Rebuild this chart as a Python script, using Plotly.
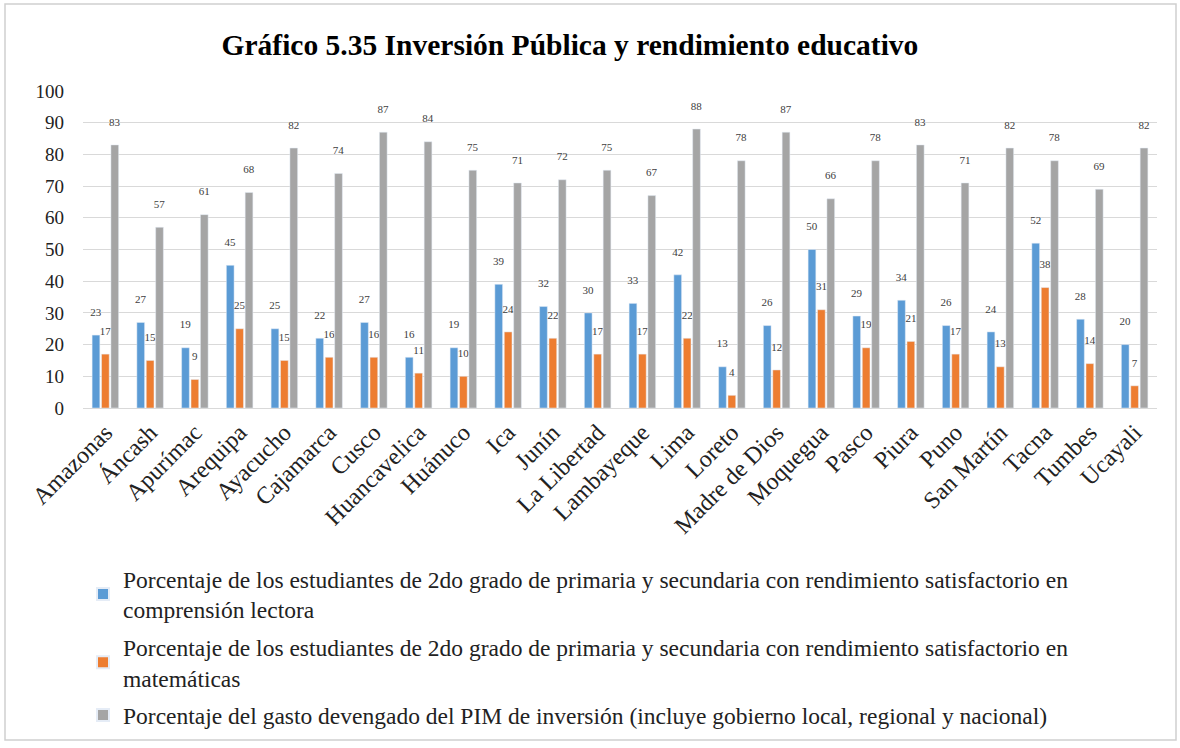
import plotly.graph_objects as go

regiones = ["Amazonas", "Áncash", "Apurímac", "Arequipa", "Ayacucho", "Cajamarca", "Cusco",
            "Huancavelica", "Huánuco", "Ica", "Junín", "La Libertad", "Lambayeque", "Lima",
            "Loreto", "Madre de Dios", "Moquegua", "Pasco", "Piura", "Puno", "San Martín",
            "Tacna", "Tumbes", "Ucayali"]
lectura = [23, 27, 19, 45, 25, 22, 27, 16, 19, 39, 32, 30, 33, 42, 13, 26, 50, 29, 34, 26, 24, 52, 28, 20]
matematica = [17, 15, 9, 25, 15, 16, 16, 11, 10, 24, 22, 17, 17, 22, 4, 12, 31, 19, 21, 17, 13, 38, 14, 7]
gasto_pim = [83, 57, 61, 68, 82, 74, 87, 84, 75, 71, 72, 75, 67, 88, 78, 87, 66, 78, 83, 71, 82, 78, 69, 82]

series = [
    ("Porcentaje de los estudiantes de 2do grado de primaria y secundaria con rendimiento satisfactorio en<br>comprensión lectora",
     lectura, "#5B9BD5"),
    ("Porcentaje de los estudiantes de 2do grado de primaria y secundaria con rendimiento satisfactorio en<br>matemáticas",
     matematica, "#ED7D31"),
    ("Porcentaje del gasto devengado del PIM de inversión (incluye gobierno local, regional y nacional)",
     gasto_pim, "#A5A5A5"),
]

SERIF = "Liberation Serif, Times New Roman, serif"
W, H = 1180, 748
L, R, T, B = 83, 23, 91, 340

fig = go.Figure()
for i, (name, vals, col) in enumerate(series):
    # labels float a bit above the bar tops, as in the original
    fig.add_trace(go.Bar(x=regiones, y=vals, name=name, marker_color=col,
                         texttemplate="%{y}<br> ", textposition="outside", cliponaxis=False,
                         constraintext="none",
                         outsidetextfont=dict(family=SERIF, size=11, color="#404040"),
                         legendgroup=f"g{i}"))

# light frame around the whole picture
pw, ph = W - L - R, H - T - B
fig.add_shape(type="rect", xref="paper", yref="paper",
              x0=(5 - L) / pw, x1=(W - 4 - L) / pw,
              y0=-(740 - T - ph) / ph, y1=(T - 4) / ph + 1,
              line=dict(color="#D0D0D0", width=1.5), layer="below")

fig.update_layout(
    width=W, height=H,
    margin=dict(l=L, r=R, t=T, b=B, autoexpand=False),
    paper_bgcolor="white", plot_bgcolor="white",
    barmode="group", bargap=0.37, bargroupgap=0.18,
    title=dict(text="<b>Gráfico 5.35 Inversión Pública y rendimiento educativo</b>",
               x=0.483, xanchor="center", y=0.94, yanchor="middle",
               font=dict(family=SERIF, size=29.5, color="#000000")),
    xaxis=dict(tickangle=-45, tickfont=dict(family=SERIF, size=24, color="#222222"),
               showline=True, linecolor="#D9D9D9", ticks=""),
    yaxis=dict(range=[0, 100], dtick=10, showgrid=True, gridcolor="#D9D9D9",
               tickfont=dict(family=SERIF, size=19, color="#222222"),
               zeroline=False, ticks="", ticklabelstandoff=18),
    legend=dict(orientation="v", x=0.0, xanchor="left", y=-0.47, yanchor="top",
                font=dict(family=SERIF, size=23.5, color="#222222"),
                tracegroupgap=4, itemsizing="constant"),
    showlegend=True,
    font=dict(family=SERIF),
)

fig.write_html("out.html", config={"displayModeBar": False},
               post_script="document.body.style.margin='0';")
